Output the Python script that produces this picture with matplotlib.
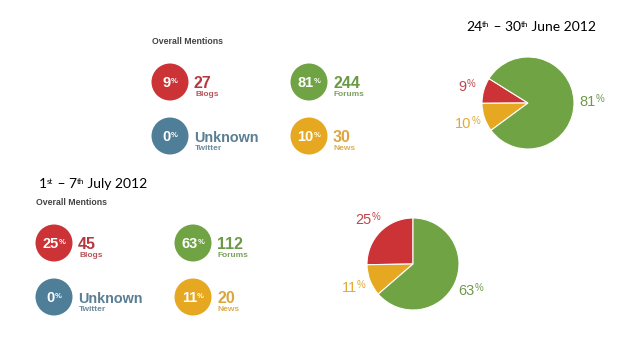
import numpy as np
import matplotlib
matplotlib.use("Agg")
import matplotlib.pyplot as plt
from matplotlib.patches import Circle

# ---- data -------------------------------------------------------------
categories = ["Blogs", "Forums", "Twitter", "News"]
june_pct = [9, 81, 0, 10]
june_counts = ["27", "244", "Unknown", "30"]
july_pct = [25, 63, 0, 11]
july_counts = ["45", "112", "Unknown", "20"]

# pie order (counter-clockwise): Blogs, News, Forums
pie_order = [0, 3, 1]

W, H = 638, 359
RED, GREEN, BLUE, GOLD = "#cc3336", "#70a343", "#4f7e98", "#e6a821"
circle_colors = [RED, GREEN, BLUE, GOLD]
count_colors = ["#b3393f", "#6a9a45", "#5a7e93", "#dba640"]
label_colors = ["#b8555a", "#7da05e", "#6b8a9b", "#ddaf55"]
pie_label_colors = {0: "#c0474a", 3: "#e3a935", 1: "#6f9a4c"}

SANS = ["Liberation Sans", "DejaVu Sans"]
TITLE = ["Lato", "DejaVu Sans"]

fig = plt.figure(figsize=(W / 100, H / 100), dpi=100)
ax = fig.add_axes([0, 0, 1, 1])
renderer = fig.canvas.get_renderer()


def Y(y):
    return H - y


def rich(x, y, parts, color, weight="normal", family=SANS, ha="left"):
    """Draw a run of text pieces (text, size, rise) on one baseline."""
    texts, widths = [], []
    for s, size, rise in parts:
        t = ax.text(0, Y(y) + rise, s, fontsize=size, color=color,
                    fontweight=weight, family=family, va="baseline", ha="left")
        texts.append(t)
        widths.append(t.get_window_extent(renderer).width)
    cur = x - sum(widths) / 2 if ha == "center" else x
    for t, w in zip(texts, widths):
        t.set_x(cur)
        cur += w


def panel(x0, y0, pct, counts):
    # x0, y0 = centre of the first (Blogs) circle, in pixels from top-left
    rich(x0 - 18, y0 - 38, [("Overall Mentions", 6.3, 0)], "#444444", weight="bold")
    offs = [(0, 0), (139, 0), (0, 54), (139, 54)]
    for i, (dx, dy) in enumerate(offs):
        cx, cy = x0 + dx, y0 + dy
        ax.add_patch(Circle((cx, Y(cy)), 18.5, color=circle_colors[i], lw=0))
        rich(cx, cy + 4.8, [(str(pct[i]), 10.5, 0), ("%", 5.5, 3.5)],
             "white", weight="bold", ha="center")
        size = 10.4 if counts[i] == "Unknown" else 11.5
        rich(cx + 24, cy + 6.3, [(counts[i], size, 0)], count_colors[i], weight="bold")
        rich(cx + 25, cy + 14, [(categories[i], 6, 0)], label_colors[i], weight="bold")


def pie(cx, cy, pct, start):
    vals = [pct[i] for i in pie_order]
    r = 46
    wedges, _ = ax.pie(vals, colors=[circle_colors[i] for i in pie_order],
                       startangle=start, counterclock=True, radius=r,
                       center=(cx, Y(cy)),
                       wedgeprops=dict(edgecolor="white", linewidth=0.8))
    for w, i in zip(wedges, pie_order):
        mid = np.deg2rad((w.theta1 + w.theta2) / 2)
        lx = cx + 1.38 * r * np.cos(mid)
        ly = cy - 1.38 * r * np.sin(mid)
        rich(lx, ly + 5, [(str(pct[i]), 10.5, 0), ("%", 7, 4)],
             pie_label_colors[i], ha="center")


panel(170, 82, june_pct, june_counts)
panel(54, 243, july_pct, july_counts)

pie(528, 103, june_pct, 148)
pie(413, 264, july_pct, 90)

rich(466, 31, [("24", 10, 0), ("th", 5.8, 4), (" \u2013 30", 10, 0), ("th", 5.8, 4),
               (" June 2012", 10, 0)], "black", family=TITLE)
rich(39, 188, [("1", 10, 0), ("st", 5.8, 4), (" \u2013 7", 10, 0), ("th", 5.8, 4),
               (" July 2012", 10, 0)], "black", family=TITLE)

ax.set_xlim(0, W)
ax.set_ylim(0, H)
ax.set_aspect("auto")
ax.axis("off")
fig.savefig("out.png", dpi=100, facecolor="white")
